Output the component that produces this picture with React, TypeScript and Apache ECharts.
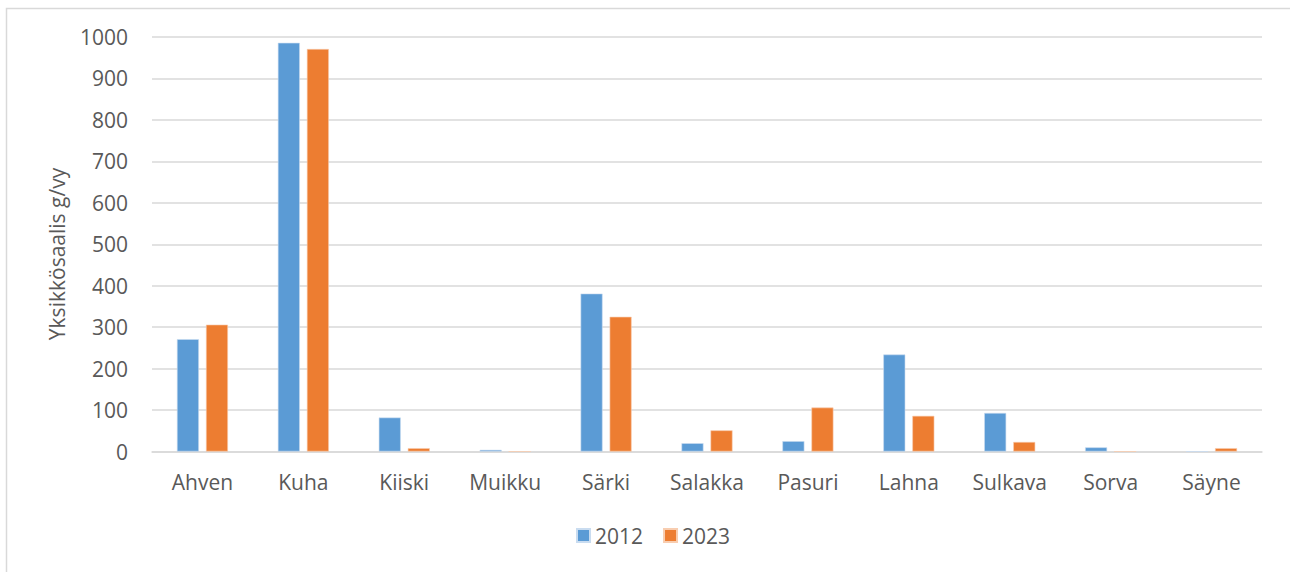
import React, { useEffect, useRef } from "react";
import * as echarts from "echarts";

const categories = ["Ahven", "Kuha", "Kiiski", "Muikku", "Särki", "Salakka", "Pasuri", "Lahna", "Sulkava", "Sorva", "Säyne"];
const values2012 = [271, 986, 82, 4, 381, 20, 25, 234, 93, 10, 0];
const values2023 = [306, 971, 8, 0, 325, 51, 106, 86, 23, 0, 8];
const seriesNames = ["2012", "2023"];
const yAxisTitle = "Yksikkösaalis g/vy";

const FONT = "'Open Sans', 'Noto Sans', sans-serif";
const TEXT = "#595959";

export default function App() {
  const ref = useRef<HTMLDivElement>(null);
  useEffect(() => {
    if (!ref.current) return;
    const chart = echarts.init(ref.current, null, { renderer: "svg" });
    chart.setOption({
      animation: false,
      backgroundColor: "#ffffff",
      textStyle: { fontFamily: FONT },
      grid: { left: 152, right: 28, top: 37, bottom: 120.5, containLabel: false },
      legend: {
        data: seriesNames,
        left: 571,
        top: 520,
        itemWidth: 13,
        itemHeight: 13,
        itemGap: 20,
        icon: "rect",
        textStyle: { color: TEXT, fontSize: 21, fontFamily: FONT },
      },
      xAxis: {
        type: "category",
        data: categories,
        axisLine: { show: true, lineStyle: { color: "#d9d9d9", width: 1.5 } },
        axisTick: { show: false },
        axisLabel: { color: TEXT, fontSize: 21, fontFamily: FONT, margin: 20, interval: 0 },
      },
      yAxis: {
        type: "value",
        min: 0,
        max: 1000,
        interval: 100,
        axisLine: { show: false },
        axisTick: { show: false },
        splitLine: { lineStyle: { color: "#d9d9d9", width: 1.5 } },
        axisLabel: {
          color: TEXT,
          fontSize: 21,
          fontFamily: FONT,
          margin: 24,
          formatter: (v: number) => String(v),
        },
      },
      graphic: [
        {
          type: "rect",
          shape: { x: 6.5, y: 8.5, width: 1320, height: 620 },
          style: { fill: "none", stroke: "#d9d9d9", lineWidth: 1.5 },
          silent: true,
        },
        {
          type: "text",
          x: 57,
          y: 254,
          rotation: Math.PI / 2,
          style: {
            text: yAxisTitle,
            fill: TEXT,
            fontSize: 21,
            fontFamily: FONT,
            align: "center",
            verticalAlign: "middle",
          },
        },
      ],
      series: [
        {
          name: seriesNames[0],
          type: "bar",
          data: values2012,
          barWidth: 22,
          barGap: "32%",
          itemStyle: { color: "#5B9BD5", borderColor: "#c9dcf0", borderWidth: 0.6 },
        },
        {
          name: seriesNames[1],
          type: "bar",
          data: values2023,
          barWidth: 22,
          barGap: "32%",
          itemStyle: { color: "#ED7D31", borderColor: "#f8cdb0", borderWidth: 0.6 },
        },
      ],
    });
    return () => chart.dispose();
  }, []);
  return (
    <div
      ref={ref}
      style={{ position: "fixed", left: 0, top: 0, width: 1290, height: 572 }}
    />
  );
}
